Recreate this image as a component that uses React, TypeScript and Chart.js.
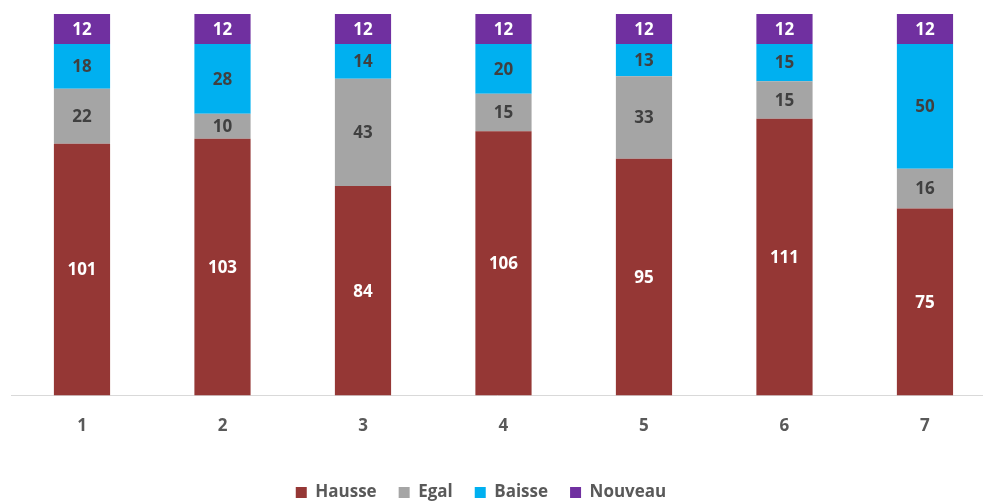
import React, { useEffect, useRef } from "react";
import { Chart, registerables } from "chart.js";

Chart.register(...registerables);

const categories = ["1", "2", "3", "4", "5", "6", "7"];
const hausse = [101, 103, 84, 106, 95, 111, 75];
const egal = [22, 10, 43, 15, 33, 15, 16];
const baisse = [18, 28, 14, 20, 13, 15, 50];
const nouveau = [12, 12, 12, 12, 12, 12, 12];

const seriesNames = ["Hausse", "Egal", "Baisse", "Nouveau"];
const seriesColors = ["#953735", "#A5A5A5", "#00B0F0", "#7030A0"];
const labelColors = ["#FFFFFF", "#404040", "#404040", "#FFFFFF"];

const FONT = "'Open Sans', Lato, sans-serif";

const dataLabelPlugin = {
  id: "dataLabels",
  afterDatasetsDraw(chart: any) {
    const ctx = chart.ctx;
    ctx.save();
    ctx.font = `bold 17px ${FONT}`;
    ctx.textAlign = "center";
    ctx.textBaseline = "middle";
    chart.data.datasets.forEach((ds: any, di: number) => {
      const meta = chart.getDatasetMeta(di);
      meta.data.forEach((bar: any, i: number) => {
        const v = ds.data[i].y;
        const cy = (bar.y + bar.base) / 2;
        ctx.fillStyle = labelColors[di];
        ctx.fillText(String(v), bar.x, cy + 1);
      });
    });
    ctx.restore();
  },
};

const legendShiftPlugin = {
  id: "legendShift",
  afterLayout(chart: any) {
    const lg = chart.legend;
    if (lg) {
      lg.left -= 16;
      lg.right -= 16;
    }
  },
};

export default function App() {
  const ref = useRef<HTMLCanvasElement | null>(null);
  useEffect(() => {
    document.body.style.margin = "0";
    const series = [hausse, egal, baisse, nouveau];
    const chart = new Chart(ref.current as HTMLCanvasElement, {
      type: "bar",
      data: {
        datasets: series.map((vals, si) => ({
          label: seriesNames[si],
          data: vals.map((v, i) => ({ x: i + 1, y: v })),
          backgroundColor: seriesColors[si],
          borderWidth: 0,
          barPercentage: 0.4,
          categoryPercentage: 1,
        })),
      },
      options: {
        animation: false,
        responsive: true,
        maintainAspectRatio: false,
        layout: { padding: { left: 11, right: 0, top: 14, bottom: -10 } },
        scales: {
          x: {
            type: "linear",
            stacked: true,
            offset: false,
            min: 0.4947,
            max: 7.413,
            grid: { display: false, drawTicks: false },
            border: { display: true, color: "#D9D9D9", width: 1 },
            ticks: {
              stepSize: 1,
              includeBounds: false,
              padding: 20,
              color: "#595959",
              font: { family: FONT, size: 17, weight: "bold" },
              callback: (v: any) => categories[Number(v) - 1] ?? "",
            },
            afterFit: (s: any) => {
              s.height += 6;
            },
          },
          y: {
            stacked: true,
            display: false,
            min: 0,
            max: 153,
          },
        },
        plugins: {
          legend: {
            position: "bottom",
            labels: {
              boxWidth: 11,
              boxHeight: 11,
              padding: 22,
              color: "#595959",
              font: { family: FONT, size: 17, weight: "bold" },
            },
          },
          tooltip: { enabled: false },
        },
      } as any,
      plugins: [dataLabelPlugin, legendShiftPlugin],
    });
    return () => chart.destroy();
  }, []);
  return (
    <div style={{ width: 983, height: 501, position: "relative" }}>
      <canvas ref={ref} />
    </div>
  );
}
